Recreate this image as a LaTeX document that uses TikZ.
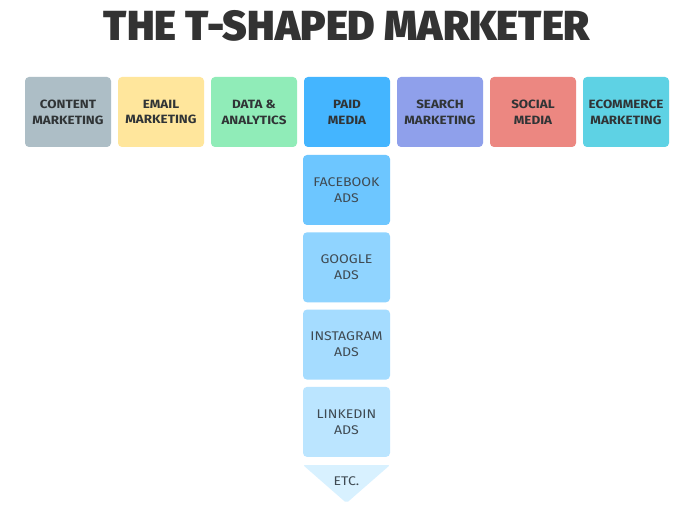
\documentclass[tikz,border=0pt]{standalone}
\usepackage{fontspec}
\setmainfont{Fira Sans}
\newfontfamily\titlefont{Fira Sans Black}
\newfontfamily\labelfont{Fira Sans}[FakeStretch=1.12]
\definecolor{cContent}{HTML}{ADBEC6}
\definecolor{cEmail}{HTML}{FFE69C}
\definecolor{cData}{HTML}{90ECB8}
\definecolor{cPaid}{HTML}{44B5FF}
\definecolor{cSearch}{HTML}{8FA0EB}
\definecolor{cSocial}{HTML}{EC8781}
\definecolor{cEcom}{HTML}{5ED2E4}
\definecolor{cFb}{HTML}{6DC6FF}
\definecolor{cGoogle}{HTML}{90D4FF}
\definecolor{cInsta}{HTML}{A5DCFF}
\definecolor{cLinked}{HTML}{BBE5FF}
\definecolor{cEtc}{HTML}{D8F1FF}
\definecolor{cTitle}{HTML}{333333}
\definecolor{cLabel}{HTML}{303436}
\definecolor{cSub}{HTML}{3F4A52}
\begin{document}
\begin{tikzpicture}[x=1pt,y=-1pt,
  topbox/.style={rectangle, rounded corners=4pt, minimum width=86pt, minimum height=70pt,
    inner sep=0pt, align=center, text=cLabel,
    font=\labelfont\fontsize{12}{15.7}\selectfont\bfseries},
  subbox/.style={rectangle, rounded corners=4pt, minimum width=87pt, minimum height=70pt,
    inner sep=0pt, align=center, text=cSub,
    font=\labelfont\fontsize{12.6}{16}\selectfont}]
\useasboundingbox[fill=white] (0,0) rectangle (688,513);
\node[anchor=base, text=cTitle, font=\titlefont\fontsize{42}{42}\selectfont] (title) at (347,41) {THE T-SHAPED MARKETER};
\node[topbox, fill=cContent] (content) at (68,112) {CONTENT\\MARKETING};
\node[topbox, fill=cEmail] (email) at (161,112) {EMAIL\\MARKETING};
\node[topbox, fill=cData] (data) at (254,112) {DATA \&\\ANALYTICS};
\node[topbox, fill=cPaid] (paid) at (347,112) {PAID\\MEDIA};
\node[topbox, fill=cSearch] (search) at (440,112) {SEARCH\\MARKETING};
\node[topbox, fill=cSocial] (social) at (533,112) {SOCIAL\\MEDIA};
\node[topbox, fill=cEcom] (ecom) at (626,112) {ECOMMERCE\\MARKETING};
\node[subbox, fill=cFb] (fb) at (346.5,190) {FACEBOOK\\ADS};
\node[subbox, fill=cGoogle] (google) at (346.5,267.3) {GOOGLE\\ADS};
\node[subbox, fill=cInsta] (insta) at (346.5,344.6) {INSTAGRAM\\ADS};
\node[subbox, fill=cLinked] (linked) at (346.5,421.9) {LINKEDIN\\ADS};
\fill[cEtc, rounded corners=2pt] (303,465) -- (390,465) -- (346.5,503) -- cycle;
\node[text=cSub, font=\labelfont\fontsize{12.6}{16}\selectfont, inner sep=0pt] (etc) at (346.5,481) {ETC.};
\end{tikzpicture}
\end{document}
